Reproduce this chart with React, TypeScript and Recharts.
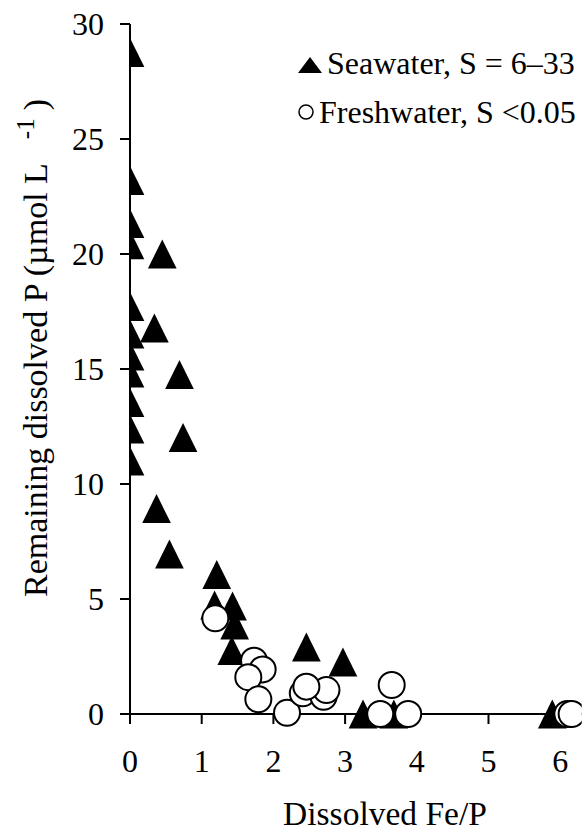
import React from "react";
import { ScatterChart, Scatter, XAxis, YAxis, Label } from "recharts";

const FONT = "'Liberation Serif', 'Times New Roman', serif";

// Seawater, S = 6–33 (triangles)
const seaFeP = [0, 0, 0, 0, 0.45, 0, 0.34, 0, 0, 0, 0.69, 0, 0, 0.74, 0, 0.37, 0.55, 1.21, 1.18, 1.43, 1.46, 1.42, 2.46, 2.97, 3.25, 3.68, 5.89];
const seaP = [28.76, 23.2, 21.33, 20.4, 20.0, 17.72, 16.78, 16.52, 15.57, 14.83, 14.76, 13.54, 12.39, 12.02, 11.0, 8.93, 6.96, 6.06, 4.74, 4.7, 3.87, 2.76, 2.91, 2.26, 0, 0, 0];

// Freshwater, S < 0.05 (open circles)
const freshFeP = [1.19, 1.73, 1.85, 1.65, 1.79, 2.19, 2.41, 2.7, 2.74, 2.46, 3.49, 3.88, 3.65, 6.1, 6.16];
const freshP = [4.16, 2.32, 1.94, 1.6, 0.64, 0.05, 0.9, 0.75, 1.04, 1.19, 0, 0, 1.26, 0, 0];

const seriesNames = ["Seawater, S = 6–33", "Freshwater, S <0.05"];
const xTicks = [0, 1, 2, 3, 4, 5, 6];
const yTicks = [0, 5, 10, 15, 20, 25, 30];

const seaData = seaFeP.map((x, i) => ({ x, y: seaP[i] }));
const freshData = freshFeP.map((x, i) => ({ x, y: freshP[i] }));

const TriangleShape = (props: any) => {
  const { cx, cy } = props;
  const w = 28.7;
  const h = 29;
  return (
    <path
      d={`M${cx},${cy - h / 2} L${cx + w / 2},${cy + h / 2} L${cx - w / 2},${cy + h / 2} Z`}
      fill="#000"
    />
  );
};

const CircleShape = (props: any) => {
  const { cx, cy } = props;
  return <circle cx={cx} cy={cy} r={13} fill="#fff" stroke="#000" strokeWidth={2} />;
};

const LegendOverlay = () => (
  <svg
    width={295}
    height={110}
    style={{ position: "absolute", left: 290, top: 30, display: "block" }}
  >
    <path d="M20,27 L32,43 L8,43 Z" fill="#000" />
    <text x={37} y={44} fontFamily={FONT} fontSize={32} fill="#000">
      {seriesNames[0]}
    </text>
    <circle cx={16} cy={82} r={7} fill="#fff" stroke="#000" strokeWidth={1.5} />
    <text x={29} y={93} fontFamily={FONT} fontSize={32} fill="#000">
      {seriesNames[1]}
    </text>
  </svg>
);

const YTitle = () => (
  <text
    x={47}
    y={597}
    transform="rotate(-90 47 597)"
    textAnchor="start"
    fontFamily={FONT}
    fontSize={34}
    fill="#000"
  >
    {"Remaining dissolved P (µmol L"}
    <tspan dx={24} dy={-13} fontSize={25}>-1</tspan>
    <tspan dx={8} dy={13}>)</tspan>
  </text>
);

const XTitle = () => (
  <text x={385} y={825} textAnchor="middle" fontFamily={FONT} fontSize={33.5} fill="#000">
    Dissolved Fe/P
  </text>
);

export default function App() {
  return (
    <div style={{ position: "absolute", left: 0, top: 0, width: 585, height: 833, background: "#fff" }}>
      <ScatterChart
        width={585}
        height={833}
        margin={{ top: 24, right: 3.3, bottom: 0, left: 0 }}
      >
        <XAxis
          type="number"
          dataKey="x"
          domain={[0, 6.3]}
          ticks={xTicks}
          height={119}
          tickSize={10}
          tickMargin={25}
          axisLine={{ stroke: "#000", strokeWidth: 2 }}
          tickLine={{ stroke: "#000", strokeWidth: 2 }}
          tick={{ fontFamily: FONT, fontSize: 32, fill: "#000" }}
          allowDataOverflow
        >
          <Label content={<XTitle />} />
        </XAxis>
        <YAxis
          type="number"
          dataKey="y"
          domain={[0, 30]}
          ticks={yTicks}
          width={130}
          tickSize={10}
          tickMargin={16}
          axisLine={{ stroke: "#000", strokeWidth: 2 }}
          tickLine={{ stroke: "#000", strokeWidth: 2 }}
          tick={{ fontFamily: FONT, fontSize: 32, fill: "#000" }}
        >
          <Label content={<YTitle />} />
        </YAxis>
        <Scatter
          name={seriesNames[0]}
          data={seaData}
          shape={<TriangleShape />}
          fill="#000"
          isAnimationActive={false}
        />
        <Scatter
          name={seriesNames[1]}
          data={freshData}
          shape={<CircleShape />}
          fill="#fff"
          isAnimationActive={false}
        />
      </ScatterChart>
      <LegendOverlay />
    </div>
  );
}
